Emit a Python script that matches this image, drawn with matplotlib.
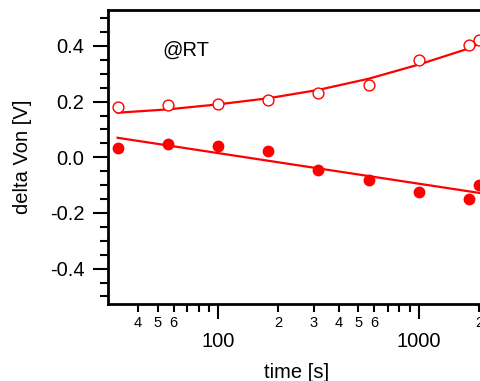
import matplotlib
matplotlib.use('Agg')
import matplotlib.pyplot as plt
from matplotlib.ticker import FixedLocator, FixedFormatter
import numpy as np

plt.rcParams['font.family'] = ['Liberation Sans', 'DejaVu Sans']

# datos
tiempo = [31.6, 56.2, 100, 178, 316, 562, 1000, 1778, 2000]
von_abierto = [0.181, 0.189, 0.192, 0.207, 0.232, 0.258, 0.350, 0.404, 0.421]
von_lleno = [0.033, 0.049, 0.041, 0.022, -0.047, -0.080, -0.126, -0.150, -0.098]

# curvas de ajuste (leidas)
ajuste_sup = [0.160, 0.172, 0.190, 0.212, 0.242, 0.282, 0.333, 0.391, 0.408]
t_ajuste_inf = [31.6, 2000]
ajuste_inf = [0.070, -0.128]

rojo = '#ff0000'

fig = plt.figure(figsize=(4.81, 3.81), dpi=100)
ax = fig.add_axes([0.2245, 0.2021, 0.786, 0.7717])

ax.plot(tiempo, ajuste_sup, color=rojo, lw=1.6)
ax.plot(t_ajuste_inf, ajuste_inf, color=rojo, lw=1.6)
ax.plot(tiempo, von_abierto, 'o', mfc='white', mec=rojo, mew=1.0, ms=7.8, ls='none')
ax.plot(tiempo, von_lleno, 'o', mfc=rojo, mec=rojo, ms=7.5, ls='none')

ax.set_xscale('log')
ax.set_xlim(28.3, 2163)
ax.set_ylim(-0.527, 0.529)

# ticks del eje x
mayores = [100, 1000]
menores = [40, 50, 60, 70, 80, 90, 200, 300, 400, 500, 600, 700, 800, 900, 2000]
etiquetas_menores = ['4', '5', '6', '', '', '', '2', '3', '4', '5', '6', '', '', '', '2']
ax.xaxis.set_major_locator(FixedLocator(mayores))
ax.xaxis.set_major_formatter(FixedFormatter(['100', '1000']))
ax.xaxis.set_minor_locator(FixedLocator(menores))
ax.xaxis.set_minor_formatter(FixedFormatter(etiquetas_menores))

# ticks del eje y
ax.set_yticks([-0.4, -0.2, 0.0, 0.2, 0.4])
ax.set_yticklabels(['-0.4', '-0.2', '0.0', '0.2', '0.4'])
ax.set_yticks(np.arange(-0.5, 0.51, 0.05), minor=True)

ax.tick_params(axis='both', which='major', direction='out', length=11, width=1.5,
               labelsize=14.5, top=False, right=False)
ax.tick_params(axis='both', which='minor', direction='out', length=6, width=1.5,
               top=False, right=False)
ax.tick_params(axis='x', which='major', pad=9)
ax.tick_params(axis='x', which='minor', pad=3, labelsize=10.5)
ax.tick_params(axis='y', which='major', pad=6)

for lado in ['left', 'bottom', 'top']:
    ax.spines[lado].set_linewidth(2)
ax.spines['right'].set_visible(False)

ax.set_xlabel('time [s]', fontsize=14.5)
ax.set_ylabel('delta Von [V]', fontsize=14.5)
ax.xaxis.set_label_coords(0.5, -0.2)
ax.yaxis.set_label_coords(-0.2, 0.5)

ax.text(53, 0.386, '@RT', fontsize=14.5, ha='left', va='center')

fig.savefig('out.png', dpi=100)
